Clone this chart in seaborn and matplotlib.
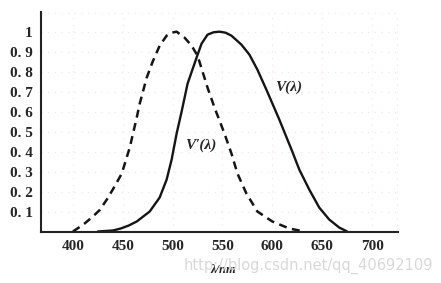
import matplotlib
matplotlib.use("Agg")
import matplotlib.pyplot as plt
import seaborn as sns
import pandas as pd

# V'(lambda) - scotopic (dashed)
scot_wl = [400, 406, 412, 420, 427, 434, 440, 449, 457, 464, 467, 474, 480, 487, 494, 499,
           504, 512, 519, 525, 535, 542, 552, 559, 565, 574, 585, 600, 617, 632]
scot_v = [0.0, 0.02, 0.041, 0.075, 0.108, 0.16, 0.21, 0.29, 0.42, 0.57, 0.64, 0.77, 0.85, 0.93, 0.98, 0.995,
          1.0, 0.97, 0.93, 0.88, 0.72, 0.62, 0.49, 0.39, 0.29, 0.19, 0.10, 0.05, 0.015, 0.0]

# V(lambda) - photopic (solid)
phot_wl = [425, 440, 448, 456, 464, 477, 487, 494, 499, 504, 509, 515, 524, 529, 535, 541,
           547, 553, 559, 569, 577, 585, 594, 607, 620, 627, 634, 637, 647, 657, 667, 675]
phot_v = [0.0, 0.005, 0.015, 0.03, 0.05, 0.10, 0.17, 0.26, 0.36, 0.49, 0.60, 0.74, 0.87, 0.94, 0.985, 0.997,
          1.0, 0.995, 0.98, 0.935, 0.885, 0.81, 0.71, 0.56, 0.40, 0.31, 0.24, 0.21, 0.12, 0.06, 0.02, 0.0]

x_ticks = [400, 450, 500, 550, 600, 650, 700]
y_ticks = [0.1, 0.2, 0.3, 0.4, 0.5, 0.6, 0.7, 0.8, 0.9, 1.0]
y_tick_labels = ["0. 1", "0. 2", "0. 3", "0. 4", "0. 5", "0. 6", "0. 7", "0. 8", "0. 9", "1"]

sns.set_style("white")
plt.rcParams["font.family"] = ["Liberation Serif", "DejaVu Serif"]

fig = plt.figure(figsize=(4.41, 2.83), dpi=100)
ax = fig.add_axes([41 / 441, 1 - 231.5 / 283, (398 - 41) / 441, (231.5 - 11.7) / 283])

df_s = pd.DataFrame({"wl": scot_wl, "v": scot_v})
df_p = pd.DataFrame({"wl": phot_wl, "v": phot_v})

sns.lineplot(data=df_s, x="wl", y="v", ax=ax, color="#151515", lw=1.8,
             linestyle=(0, (3.2, 2.2)), estimator=None, sort=False)
sns.lineplot(data=df_p, x="wl", y="v", ax=ax, color="#151515", lw=1.7,
             estimator=None, sort=False)

ax.set_xlim(368, 726)
ax.set_ylim(0, 1.1)

ax.set_xticks(x_ticks + [725])
ax.set_xticklabels([str(t) for t in x_ticks] + [""], fontsize=11, fontweight="bold")
ax.set_yticks(y_ticks + [1.095])
ax.set_yticklabels(y_tick_labels + [""], fontsize=11, fontweight="bold")
ax.tick_params(axis="x", direction="in", length=5, width=1.3, pad=6, color="#222222")
ax.tick_params(axis="y", direction="in", length=3.5, width=1.3, pad=6, color="#222222")

for s in ["top", "right"]:
    ax.spines[s].set_visible(False)
for s in ["left", "bottom"]:
    ax.spines[s].set_linewidth(1.5)
    ax.spines[s].set_color("#222222")

ax.grid(True, color="#f2c8ee", linestyle=(0, (1, 5)), linewidth=0.8, alpha=0.6)

fig.text(308 / 441, 1 - 266 / 283, "http://blog.csdn.net/qq_40692109", fontsize=10.5,
         family=["DejaVu Sans"], color="#d9d9d9", ha="center", va="center", zorder=0)

ax.set_xlabel("λ/nm", fontsize=9, fontweight="bold", fontstyle="italic")
ax.xaxis.set_label_coords((223 - 41) / (398 - 41), (231.5 - 270) / (231.5 - 11.7))
ax.xaxis.label.set_va("center")
ax.set_ylabel("")

ax.text(616, 0.72, "V(λ)", fontsize=11, fontweight="bold", fontstyle="italic",
        ha="center", va="center")
ax.text(528, 0.43, "V'(λ)", fontsize=11, fontweight="bold", fontstyle="italic",
        ha="center", va="center")

fig.savefig("out.png", dpi=100)
